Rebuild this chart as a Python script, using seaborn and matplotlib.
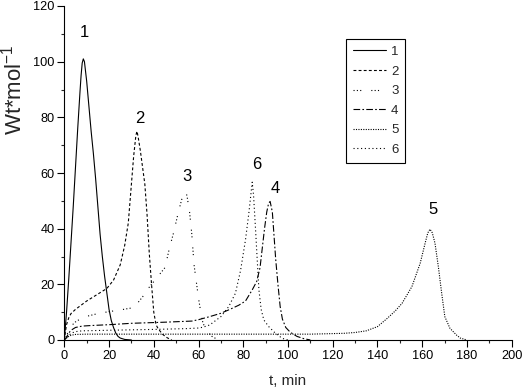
import matplotlib
matplotlib.use("Agg")
import matplotlib.pyplot as plt
import seaborn as sns
import pandas as pd
from matplotlib.ticker import MultipleLocator

# ---- data ----
t1 = [0, 1, 2, 3, 4, 5, 6, 7, 7.5, 8, 8.5, 9, 10, 11, 12, 13, 14, 15, 16, 17, 18, 19, 20, 21, 22, 23, 24, 25, 27, 30]
y1 = [0, 10, 22, 35, 48, 62, 76, 89, 95, 99.5, 101, 100, 93, 84, 75, 67, 58, 48, 38, 30, 23, 17, 11, 7, 4.5, 2.5, 1.3, 0.7, 0.2, 0]

t2 = [0, 0.5, 1, 2, 3, 5, 10, 15, 19, 22, 25, 27, 28.6, 30, 31, 32, 32.5, 33, 34, 35, 36, 37, 38, 39, 40, 41, 42, 44, 46, 48]
y2 = [0, 3, 5.5, 8, 9.5, 11, 14, 16.5, 18.5, 21.5, 27, 34, 42, 56, 66, 73.5, 75, 73, 68, 62, 56, 45, 31, 20, 10, 5.5, 4, 2, 0.8, 0]

t3 = [0, 1, 2, 3, 5, 7, 10, 15, 20, 25, 30, 32, 35, 38, 42, 45, 47, 49, 51, 52.5, 53.5, 54.5, 55, 56, 57, 58, 59, 60, 61, 62, 64, 66, 68, 70]
y3 = [0, 1.5, 3.5, 5, 6.5, 7.5, 8.5, 9.5, 10.2, 10.8, 11.5, 12.5, 15.5, 19, 23, 26, 33, 39, 46, 50.5, 52.5, 53, 51, 46, 38, 27, 21, 15, 10, 6, 3, 1.3, 0.4, 0]

t4 = [0, 1, 2, 3, 5, 8, 12, 20, 30, 45, 57, 60, 65, 70, 74, 78, 81, 84, 86, 87.5, 88.5, 89.5, 90.5, 91.3, 92, 93, 94.5, 95.5, 96.5, 97.5, 99, 101, 104, 107, 110]
y4 = [0, 1, 2.5, 3.5, 4.5, 5, 5.2, 5.5, 6, 6.4, 6.8, 7.3, 8.4, 9.6, 11, 12.5, 14, 18, 21, 26, 33, 40, 46, 49, 49.8, 46, 29, 20, 12, 7.5, 4.5, 2.8, 1.3, 0.5, 0]

t5 = [0, 1, 2, 3, 5, 10, 30, 60, 90, 110, 120, 125, 130, 135, 140, 144.4, 148, 151, 155.4, 159.1, 161.3, 162.5, 163.5, 164.5, 165.7, 167.2, 168.7, 170.1, 172.4, 175.3, 177, 180]
y5 = [0, 0.7, 1.3, 1.7, 2.0, 2.1, 2.1, 2.1, 2.1, 2.1, 2.3, 2.4, 2.7, 3.3, 4.8, 7.8, 10.5, 13.2, 19.2, 27.6, 34.8, 38.5, 39.8, 38.5, 34.8, 26.4, 16.8, 8.4, 4.2, 1.8, 0.7, 0]

t6 = [0, 1, 2, 3, 5, 8, 20, 40, 55, 60, 62, 65, 70, 73.5, 76.5, 78.8, 81, 82.5, 83.5, 84, 84.6, 85.5, 86.3, 87, 88, 89.2, 91.4, 94.4, 97.4, 100]
y6 = [0, 0.8, 1.6, 2.4, 3.0, 3.3, 3.5, 3.8, 4.1, 4.3, 4.6, 5.4, 8.4, 12, 16.8, 25, 36, 45.6, 53, 56.7, 52, 39.6, 28, 18, 11, 7.2, 4.8, 2.4, 0.6, 0]

series_names = ["1", "2", "3", "4", "5", "6"]
peak_labels = ["1", "2", "3", "4", "5", "6"]
peak_label_x = [8.8, 33.8, 54.7, 94.5, 165, 86]
peak_label_y = [110.5, 79.7, 58.7, 54.5, 47, 63]

x_label = "t, min"
y_label = "Wt*mol$^{-1}$"

# ---- style ----
sns.set_style("white")
plt.rcParams["font.family"] = ["Liberation Sans", "DejaVu Sans"]
plt.rcParams["mathtext.fontset"] = "custom"
plt.rcParams["mathtext.rm"] = "Liberation Sans"
plt.rcParams["mathtext.it"] = "Liberation Sans"

fig = plt.figure(figsize=(5.31, 3.9), dpi=100)
ax = fig.add_axes([64.3 / 531, 50 / 390, 447.4 / 531, 334 / 390])

lw = 0.8
styles = [
    "-",
    (0, (2.6, 2.0)),
    (0, (1, 2, 1, 2, 1, 9)),
    (0, (6, 2, 1.5, 2)),
    (0, (1, 1.2)),
    (0, (1, 2.4)),
]
all_t = [t1, t2, t3, t4, t5, t6]
all_y = [y1, y2, y3, y4, y5, y6]

for name, tt, yy, ls in zip(series_names, all_t, all_y, styles):
    df = pd.DataFrame({"t": tt, "y": yy})
    sns.lineplot(data=df, x="t", y="y", ax=ax, color="black", linewidth=lw,
                 linestyle=ls, sort=False, estimator=None, label=name)

for lab, px, py in zip(peak_labels, peak_label_x, peak_label_y):
    ax.text(px, py, lab, ha="center", va="center", fontsize=12, color="black")

ax.set_xlim(0, 200)
ax.set_ylim(0, 120)
ax.xaxis.set_major_locator(MultipleLocator(20))
ax.xaxis.set_minor_locator(MultipleLocator(10))
ax.yaxis.set_major_locator(MultipleLocator(20))
ax.yaxis.set_minor_locator(MultipleLocator(10))
ax.tick_params(which="major", direction="out", length=5, width=0.8, labelsize=9.2,
               pad=2, colors="black", bottom=True, left=True)
ax.tick_params(which="minor", direction="out", length=2.5, width=0.8,
               bottom=True, left=True)

for s in ["top", "right"]:
    ax.spines[s].set_visible(False)
for s in ["left", "bottom"]:
    ax.spines[s].set_color("black")
    ax.spines[s].set_linewidth(0.8)

ax.set_xlabel(x_label, fontsize=11, labelpad=9)
ax.set_ylabel(y_label, fontsize=16, va="center")
ax.yaxis.set_label_coords(-0.114, 0.75)

leg = ax.legend(loc="upper left", bbox_to_anchor=(0.63, 0.901), borderaxespad=0,
                fontsize=9.5, handlelength=2.5, handletextpad=0.4, labelspacing=0.56,
                borderpad=0.5, frameon=True, fancybox=False, framealpha=1, shadow=False)
leg.get_frame().set_edgecolor("black")
leg.get_frame().set_linewidth(0.8)

fig.savefig("out.png", dpi=100)
